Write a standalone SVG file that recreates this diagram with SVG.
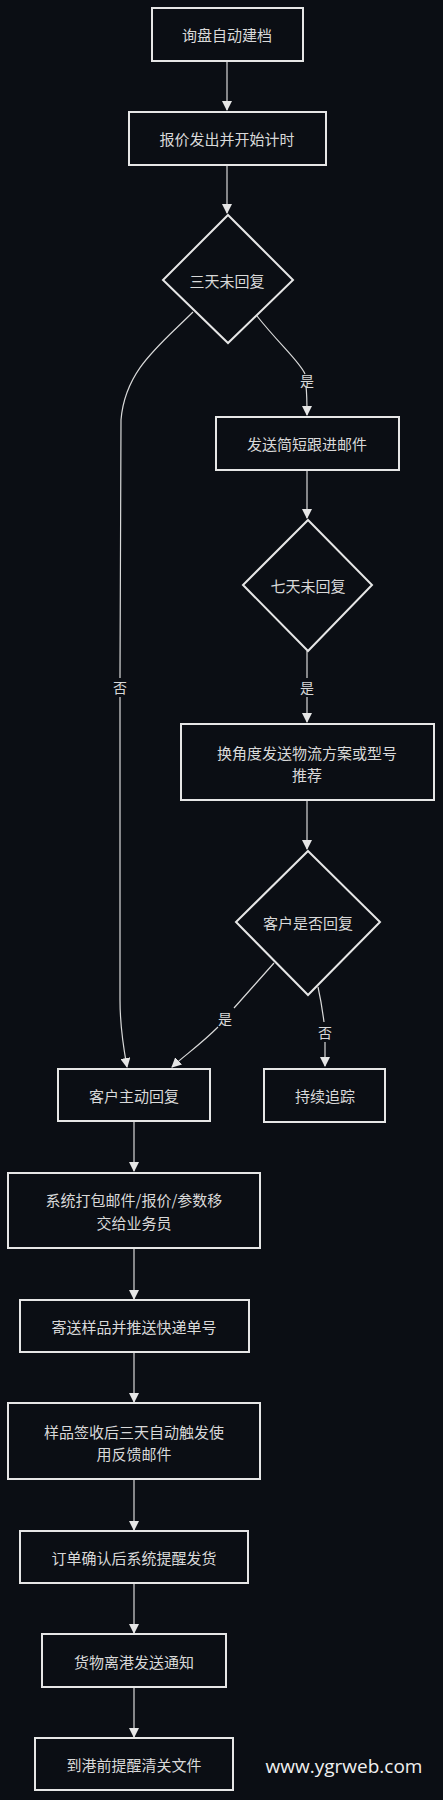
<svg xmlns="http://www.w3.org/2000/svg" width="443" height="1800" viewBox="0 0 443 1800">
<style>
.bg{fill:#0b0e14}
.n rect,.n polygon{fill:#0b0e14;stroke:#e6e6e6;stroke-width:2}
.t{fill:#d9d9d9;font-family:"Noto Sans CJK SC","Noto Sans",sans-serif;font-size:15px;text-anchor:middle;dominant-baseline:central}
.lb{fill:#d9d9d9;font-family:"Noto Sans CJK SC","Noto Sans",sans-serif;font-size:14px;text-anchor:middle;dominant-baseline:central}
.e path{fill:none;stroke:#d9d9d9;stroke-width:1.2}
.wm{fill:#f0f0f0;font-family:"Open Sans","Noto Sans",sans-serif;font-size:19px;text-anchor:middle}
</style>
<defs>
<marker id="ah" viewBox="0 0 10 10" refX="9" refY="5" markerWidth="10" markerHeight="10" markerUnits="userSpaceOnUse" orient="auto">
<path d="M0,0 L10,5 L0,10 z" fill="#e6e6e6"/>
</marker>
</defs>
<rect class="bg" x="0" y="0" width="443" height="1800"/>

<g class="e">
<path d="M227,61 L227,110" marker-end="url(#ah)"/>
<path d="M227,165 L227,213" marker-end="url(#ah)"/>
<path d="M257,316 C280,345 300,362 305,374 M306,386 C307,395 307,405 307,415" marker-end="url(#ah)"/>
<path d="M307,470 L307,518" marker-end="url(#ah)"/>
<path d="M307,651 L307,678 M307,697 L307,722" marker-end="url(#ah)"/>
<path d="M307,800 L307,849" marker-end="url(#ah)"/>
<path d="M274,963 L234,1008 M218,1027 C200,1045 185,1055 172,1067" marker-end="url(#ah)"/>
<path d="M318,987 C322,1005 323,1015 324,1022 M325,1042 L325,1066" marker-end="url(#ah)"/>
<path d="M193,312 C160,345 125,370 121,420 L120,678 M120,697 L120,1000 C120,1030 124,1050 127,1067" marker-end="url(#ah)"/>
<path d="M134,1121 L134,1171" marker-end="url(#ah)"/>
<path d="M134,1248 L134,1299" marker-end="url(#ah)"/>
<path d="M134,1352 L134,1402" marker-end="url(#ah)"/>
<path d="M134,1479 L134,1530" marker-end="url(#ah)"/>
<path d="M134,1583 L134,1633" marker-end="url(#ah)"/>
<path d="M134,1687 L134,1737" marker-end="url(#ah)"/>
</g>
<g id="edge-labels">
<text class="lb" x="307" y="380">是</text>
<text class="lb" x="307" y="687">是</text>
<text class="lb" x="120" y="687">否</text>
<text class="lb" x="225" y="1018">是</text>
<text class="lb" x="325" y="1032">否</text>
</g>

<g id="n1" class="n"><rect x="152" y="8" width="151" height="53"/><text class="t" x="227" y="34">询盘自动建档</text></g>
<g id="n2" class="n"><rect x="129" y="112" width="197" height="53"/><text class="t" x="227" y="138">报价发出并开始计时</text></g>
<g id="d1" class="n"><polygon points="228,215 293,280 228,343 163,280"/><text class="t" x="227" y="280">三天未回复</text></g>
<g id="n3" class="n"><rect x="216" y="417" width="183" height="53"/><text class="t" x="307" y="443">发送简短跟进邮件</text></g>
<g id="d2" class="n"><polygon points="308,520 372,585 308,651 243,585"/><text class="t" x="308" y="585">七天未回复</text></g>
<g id="n4" class="n"><rect x="181" y="724" width="253" height="76"/><text class="t" x="307" y="752">换角度发送物流方案或型号</text><text class="t" x="307" y="774">推荐</text></g>
<g id="d3" class="n"><polygon points="308,851 380,922 308,995 236,922"/><text class="t" x="308" y="922">客户是否回复</text></g>
<g id="n5" class="n"><rect x="58" y="1069" width="152" height="52"/><text class="t" x="134" y="1095">客户主动回复</text></g>
<g id="n6" class="n"><rect x="264" y="1069" width="121" height="53"/><text class="t" x="325" y="1095">持续追踪</text></g>
<g id="n7" class="n"><rect x="8" y="1173" width="252" height="75"/><text class="t" x="134" y="1199">系统打包邮件/报价/参数移</text><text class="t" x="134" y="1222">交给业务员</text></g>
<g id="n8" class="n"><rect x="20" y="1300" width="229" height="52"/><text class="t" x="134" y="1326">寄送样品并推送快递单号</text></g>
<g id="n9" class="n"><rect x="8" y="1403" width="252" height="76"/><text class="t" x="134" y="1431">样品签收后三天自动触发使</text><text class="t" x="134" y="1453">用反馈邮件</text></g>
<g id="n10" class="n"><rect x="20" y="1531" width="228" height="52"/><text class="t" x="134" y="1557">订单确认后系统提醒发货</text></g>
<g id="n11" class="n"><rect x="42" y="1634" width="184" height="53"/><text class="t" x="134" y="1661">货物离港发送通知</text></g>
<g id="n12" class="n"><rect x="35" y="1738" width="198" height="52"/><text class="t" x="134" y="1764">到港前提醒清关文件</text></g>

<text class="wm" x="344" y="1773">www.ygrweb.com</text>
</svg>
